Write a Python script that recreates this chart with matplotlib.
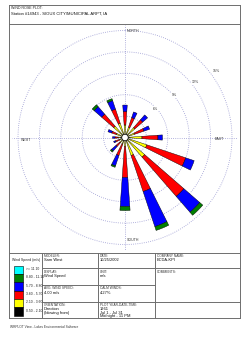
import matplotlib
matplotlib.use('Agg')
import matplotlib.pyplot as plt
import numpy as np
from matplotlib.patches import Rectangle
from matplotlib.lines import Line2D

plt.rcParams['font.family'] = ['Liberation Sans', 'DejaVu Sans']

# 16 directions, frequency (%) of each speed class
directions = ['N', 'NNE', 'NE', 'ENE', 'E', 'ESE', 'SE', 'SSE',
              'S', 'SSW', 'SW', 'WSW', 'W', 'WNW', 'NW', 'NNW']
spd_050_210 = [0.20, 0.20, 0.20, 0.20, 0.20, 0.20, 0.20, 0.20,
               0.20, 0.20, 0.20, 0.20, 0.20, 0.20, 0.20, 0.20]
spd_210_360 = [1.55, 1.34, 1.62, 1.20, 2.18, 3.02, 3.45, 2.46,
               1.06, 0.78, 0.78, 0.64, 0.78, 1.06, 1.90, 1.90]
spd_360_570 = [1.89, 1.40, 1.47, 1.40, 2.24, 5.75, 7.29, 5.33,
               4.35, 1.68, 0.70, 0.56, 0.42, 0.70, 2.24, 2.10]
spd_570_880 = [0.91, 0.84, 0.91, 0.84, 0.63, 1.26, 2.95, 5.19,
               4.07, 1.54, 0.84, 0.28, 0.35, 0.56, 1.40, 1.26]
spd_880_1110 = [0, 0, 0, 0, 0, 0, 0.56, 0.56,
                0.56, 0.21, 0.21, 0, 0, 0, 0.35, 0.28]
spd_1110_up = [0] * 16

class_labels = ['>= 11.10', '8.80 - 11.10', '5.70 - 8.80',
                '3.60 - 5.70', '2.10 - 3.60', '0.50 - 2.10']
class_colors = ['#00ffff', '#008000', '#0000ff', '#ff0000', '#ffff00', '#000000']

rings = [3, 6, 9, 12, 15]
ring_labels = ['6%', '9%', '12%', '15%']

W, H = 247, 338
def fx(x):
    return x / W
def fy(y):
    return 1 - y / H

fig = plt.figure(figsize=(W / 100, H / 100), dpi=100)
fig.patch.set_facecolor('white')

# polar rose, centre at (125, 137.5) px, radius 113 px
cx, cy, rad = 125, 137.5, 113
ax = fig.add_axes([fx(cx - rad), fy(cy + rad), 2 * rad / W, 2 * rad / H], projection='polar')
ax.set_theta_zero_location('N')
ax.set_theta_direction(-1)
rmax = 15 * rad / 107
ax.set_rlim(0, rmax)
ax.set_axis_off()

grid_c = '#9a9ad2'
tt = np.linspace(0, 2 * np.pi, 400)
for r in rings:
    ax.plot(tt, np.full_like(tt, r), color=grid_c, lw=0.6, ls=(0, (1, 1.6)), zorder=0)
for a in [0, 90, 180, 270]:
    ax.plot([np.deg2rad(a)] * 2, [0, rmax], color=grid_c, lw=0.6, ls=(0, (1, 1.6)), zorder=0)

theta = np.deg2rad(np.arange(16) * 22.5)
stack = [spd_050_210, spd_210_360, spd_360_570, spd_570_880, spd_880_1110, spd_1110_up]
colors = class_colors[::-1]
bottom = np.zeros(16)
for vals, col in zip(stack, colors):
    vals = np.array(vals, dtype=float)
    m = vals > 0
    if m.any():
        ax.bar(theta[m], vals[m], width=np.deg2rad(8), bottom=bottom[m],
               color=col, edgecolor='black', linewidth=0.3, zorder=2)
    bottom += vals

# calm circle
ax.fill(tt, np.full_like(tt, 0.45), facecolor='white', edgecolor='black', lw=0.5, zorder=3)

lab_kw = dict(fontsize=2.6, color='#333333', zorder=4)
ax.text(np.deg2rad(1.2), 14.9, 'NORTH', ha='left', va='center', **lab_kw)
ax.text(np.deg2rad(178.8), 14.4, 'SOUTH', ha='left', va='center', **lab_kw)
ax.text(np.deg2rad(268.5), 13.9, 'WEST', ha='center', va='center', **lab_kw)
ax.text(np.deg2rad(91.2), 13.2, 'EAST', ha='center', va='center', **lab_kw)
ring_ang = [46.6, 49.5, 51.7, 54.0]
ring_pos = [5.9, 9.07, 12.5, 15.85]
for s, a, r in zip(ring_labels, ring_ang, ring_pos):
    ax.text(np.deg2rad(a), r, s, ha='center', va='center', fontsize=2.6, color='#333333',
            bbox=dict(facecolor='white', edgecolor='none', pad=0.3), zorder=4)

# frame and table lines
line_c = '#6e6e6e'
def hline(y, x0, x1):
    fig.add_artist(Line2D([fx(x0), fx(x1)], [fy(y), fy(y)], color=line_c, lw=0.7))
def vline(x, y0, y1):
    fig.add_artist(Line2D([fx(x), fx(x)], [fy(y0), fy(y1)], color=line_c, lw=0.7))

L, R, T, B = 9, 240, 5, 318
hline(T, L, R); hline(B, L, R); vline(L, T, B); vline(R, T, B)
hline(23.5, L, R)
hline(252.5, L, R)
for x in [41.7, 98.3, 155]:
    vline(x, 252.5, B)
hline(268.3, 41.7, R)
hline(285, 41.7, 155)
hline(301.7, 41.7, R)

fig.text(fx(11), fy(6), 'WIND ROSE PLOT:', fontsize=2.6, va='top', color='#222222')
fig.text(fx(11), fy(11.5), 'Station #14943 - SIOUX CITY/MUNICIPAL ARPT, IA', fontsize=3.0,
         va='top', color='#111111')

# legend
fig.text(fx(12), fy(258), 'Wind Speed (m/s)', fontsize=2.5, va='top', color='#222222')
box_top = 265.7
for i, (lab, col) in enumerate(zip(class_labels, class_colors)):
    y0 = box_top + i * 8.33
    fig.add_artist(Rectangle((fx(14.3), fy(y0 + 8.33)), 8.4 / W, 8.33 / H,
                             transform=fig.transFigure, facecolor=col, edgecolor='black', lw=0.4))
    fig.text(fx(25.5), fy(y0 + 1.2), lab, fontsize=2.4, va='top', color='#222222')

def cell(x, y, title, lines):
    fig.text(fx(x), fy(y), title, fontsize=2.3, va='top', color='#333333')
    for k, s in enumerate(lines):
        fig.text(fx(x), fy(y + 4.2 + k * 3.5), s, fontsize=2.9, va='top', color='#111111')

cell(43.5, 253.8, 'MODELER:', ['Sam West'])
cell(43.5, 269.6, 'DISPLAY:', ['Wind Speed'])
cell(43.5, 286.3, 'AVG. WIND SPEED:', ['4.00 m/s'])
cell(43.5, 303, 'ORIENTATION:', ['Direction', '(blowing from)'])
cell(100, 253.8, 'DATE:', ['10/25/2002'])
cell(100, 269.6, 'UNIT:', ['m/s'])
cell(100, 286.3, 'CALM WINDS:', ['4.27%'])
cell(100, 303, 'PLOT YEAR-DATE-TIME:', ['1961', 'Jul 1 - Jul 31', 'Midnight - 11 PM'])
cell(157, 253.8, 'COMPANY NAME:', ['ECDA-KPI'])
cell(157, 269.6, 'COMMENTS:', [])

fig.text(fx(10), fy(325.5), 'WRPLOT View - Lakes Environmental Software', fontsize=2.3,
         va='top', color='#333333')

fig.savefig('out.png', dpi=100, facecolor='white')
